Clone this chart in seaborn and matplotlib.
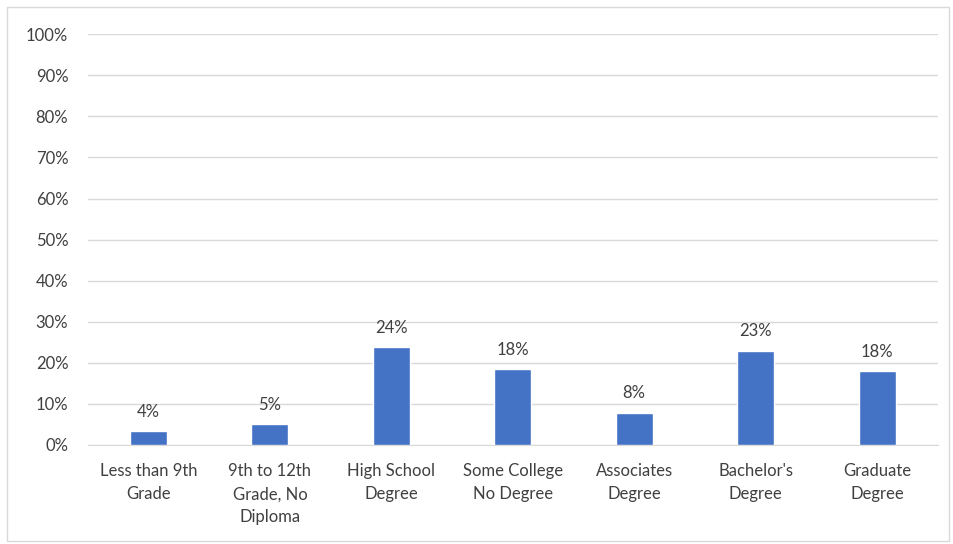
import matplotlib
matplotlib.use("Agg")
import matplotlib.pyplot as plt
import seaborn as sns
import pandas as pd
from matplotlib.patches import Rectangle
from matplotlib.ticker import PercentFormatter

# data
categories = ["Less than 9th\nGrade", "9th to 12th\nGrade, No\nDiploma", "High School\nDegree",
              "Some College\nNo Degree", "Associates\nDegree", "Bachelor's\nDegree", "Graduate\nDegree"]
shares = [0.035, 0.052, 0.239, 0.184, 0.079, 0.23, 0.18]
value_labels = ["4%", "5%", "24%", "18%", "8%", "23%", "18%"]

sns.set_style("white")
plt.rcParams['font.family'] = ['Lato', 'DejaVu Sans']

df = pd.DataFrame({"category": categories, "share": shares})

fig = plt.figure(figsize=(9.54, 5.44), dpi=100)
ax = fig.add_axes([0.092, 0.182, 0.891, 0.755])
sns.barplot(data=df, x="category", y="share", color="#4472C4", width=0.305,
            saturation=1, ax=ax, zorder=3)

ax.set_ylim(0, 1)
ax.set_yticks([i / 10 for i in range(11)])
ax.yaxis.set_major_formatter(PercentFormatter(1.0, decimals=0))
ax.grid(axis="y", color="#d9d9d9", linewidth=1, zorder=0)
ax.set_xlabel("")
ax.set_ylabel("")
for s in ["top", "right", "left"]:
    ax.spines[s].set_visible(False)
ax.spines["bottom"].set_color("#d9d9d9")
ax.tick_params(axis="both", length=0, labelsize=12, colors="#404040")
ax.tick_params(axis="x", pad=13)
ax.tick_params(axis="y", pad=14)
for t in ax.get_xticklabels():
    t.set_linespacing(1.55)

for p, lab in zip(ax.patches, value_labels):
    ax.annotate(lab, (p.get_x() + p.get_width() / 2, p.get_height()),
                xytext=(0, 8), textcoords="offset points", ha="center", va="bottom",
                fontsize=12, color="#404040")

fig.patches.append(Rectangle((0.007, 0.006), 0.988, 0.982, transform=fig.transFigure,
                             fill=False, edgecolor="#d9d9d9", linewidth=1))

fig.savefig("out.png", dpi=100)
